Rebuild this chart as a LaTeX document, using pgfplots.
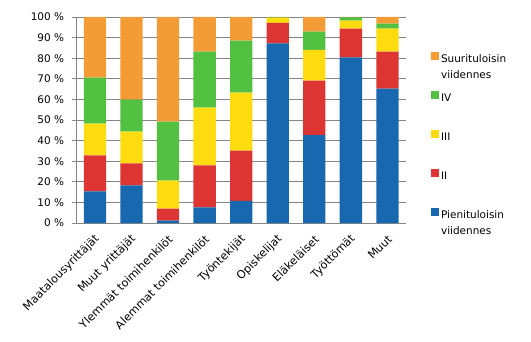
\documentclass[border=0pt]{standalone}
\usepackage{pgfplots}
\usepackage{pgfplotstable}
\usepackage{fontspec}
\setmainfont{DejaVu Sans}
\pgfplotsset{compat=1.18}
\definecolor{cblue}{RGB}{24,104,176}
\definecolor{cred}{RGB}{220,53,52}
\definecolor{cyellow}{RGB}{255,220,16}
\definecolor{cgreen}{RGB}{82,193,66}
\definecolor{corange}{RGB}{243,156,54}
\definecolor{cgrid}{RGB}{134,134,134}
\newcommand{\lt}[2]{\parbox[t]{3cm}{\fontsize{10.5}{16}\selectfont #1\newline #2}}
\pgfplotstableread{
x blue red yellow green orange
0 15.4 17.4 15.4 22.4 29.4
1 18.3 10.7 15.3 15.6 40.1
2 1.1 5.9 13.6 28.6 50.8
3 7.6 20.4 28.0 27.2 16.8
4 10.8 24.3 28.2 25.2 11.5
5 87.2 10.0 2.5 0.2 0.1
6 42.6 26.5 15.0 8.8 7.1
7 80.4 13.9 3.9 1.6 0.2
8 65.2 18.0 11.1 2.5 3.2
}\datatable
\begin{document}
\fontsize{10.5}{12.6}\selectfont
\begin{tikzpicture}
\begin{axis}[
  scale only axis,
  width=329bp, height=206bp,
  ybar stacked,
  bar width=22.3bp,
  xmin=-0.5, xmax=8.5,
  ymin=0, ymax=100,
  axis x line*=bottom,
  axis y line*=left,
  axis line style={cgrid, line width=0.8pt, -},
  ytick={0,10,...,100},
  yticklabels={0 \%,10 \%,20 \%,30 \%,40 \%,50 \%,60 \%,70 \%,80 \%,90 \%,100 \%},
  yticklabel style={font=\fontsize{10.5}{12.6}\selectfont, xshift=-4bp},
  ymajorgrids,
  grid style={cgrid, line width=0.8pt},
  ytick style={cgrid, line width=0.8pt},
  tick align=outside,
  major tick length=5bp,
  xtick={0,...,8},
  xticklabels={Maatalousyrittäjät,Muut yrittäjät,Ylemmät toimihenkilöt,Alemmat toimihenkilöt,Työntekijät,Opiskelijat,Eläkeläiset,Työttömät,Muut},
  xticklabel style={font=\fontsize{11.2}{13}\selectfont, xshift=2.5bp, yshift=-9bp, rotate=45, anchor=east, inner sep=0pt},
  x tick style={draw=none},
  extra x ticks={-0.5,0.5,...,8.5},
  extra x tick labels={},
  extra x tick style={grid=none, tick style={cgrid, line width=0.8pt, draw=cgrid}, major tick length=5bp},
  reverse legend,
  legend cell align=left,
  legend style={draw=none, fill=none, at={(rel axis cs:1,1)}, anchor=north west, xshift=25.5bp, yshift=-34.3bp,
    row sep=0pt, column sep=0pt, inner sep=0pt, nodes={inner sep=0pt}, font=\fontsize{10.5}{12.6}\selectfont},
  legend image code/.code={\fill[#1] (0bp,0bp) rectangle (8bp,8bp); \path[fill=none, draw=none] (0bp,-31bp) rectangle (9.7bp,8bp);},
]
\coordinate (o) at (rel axis cs:0,0);
\addplot[fill=cblue, draw=none] table[x=x, y=blue] {\datatable};
\addplot[fill=cred, draw=none] table[x=x, y=red] {\datatable};
\addplot[fill=cyellow, draw=none] table[x=x, y=yellow] {\datatable};
\addplot[fill=cgreen, draw=none] table[x=x, y=green] {\datatable};
\addplot[fill=corange, draw=none] table[x=x, y=orange] {\datatable};
\legend{\lt{Pienituloisin}{viidennes},\lt{II}{},\lt{III}{},\lt{IV}{},\lt{Suurituloisin}{viidennes}}
\end{axis}
\path (o) ++(-76.7bp,-119bp) rectangle ++(531bp,342bp);
\end{tikzpicture}
\end{document}
